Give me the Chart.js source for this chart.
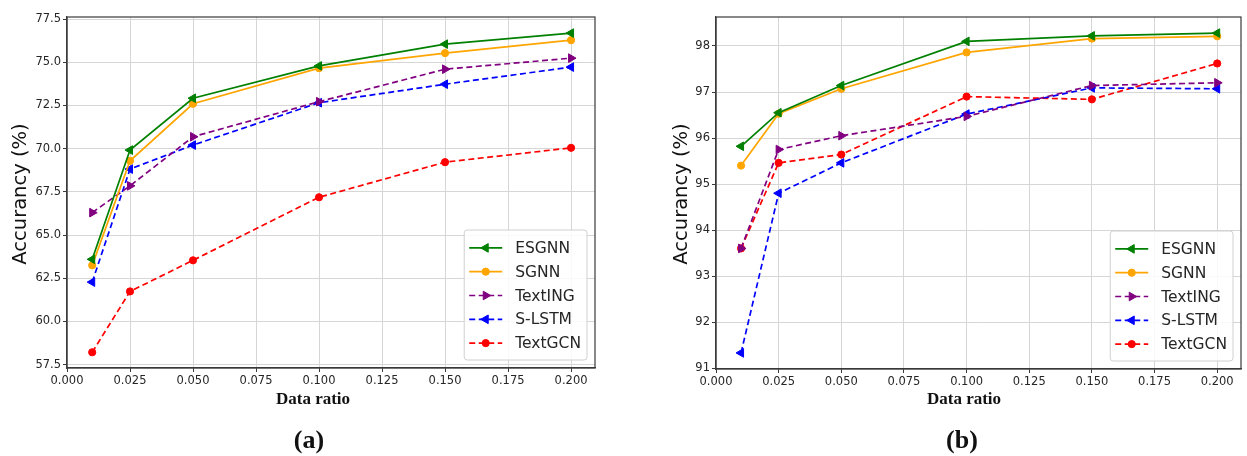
<!DOCTYPE html>
<html lang="en">
<head>
    <meta charset="UTF-8">
    <title>Accuracy vs data ratio</title>
    <script src="https://cdn.jsdelivr.net/npm/chart.js"></script>
    <style>
        body { margin: 0; background: #fff; }
        #wrap { position: relative; width: 1247px; height: 456px; }
        .box { position: absolute; top: 0; height: 456px; }
    </style>
</head>
<body>
    <div id="wrap">
        <div class="box" style="left:0;width:620px"><canvas id="chartA"></canvas></div>
        <div class="box" style="left:620px;width:627px"><canvas id="chartB"></canvas></div>
    </div>

    <script>
        // data ratio on the x axis
        var ratios = [0.01, 0.025, 0.05, 0.1, 0.15, 0.2];
        var seriesNames = ['ESGNN', 'SGNN', 'TextING', 'S-LSTM', 'TextGCN'];

        // (a)
        var esgnnA   = [63.6, 69.92, 72.92, 74.79, 76.05, 76.69];
        var sgnnA    = [63.25, 69.3, 72.6, 74.66, 75.53, 76.28];
        var textingA = [66.3, 67.85, 70.69, 72.72, 74.6, 75.24];
        var slstmA   = [62.28, 68.82, 70.21, 72.66, 73.73, 74.72];
        var textgcnA = [58.22, 61.74, 63.54, 67.19, 69.22, 70.05];

        // (b)
        var esgnnB   = [95.82, 96.55, 97.14, 98.1, 98.22, 98.28];
        var sgnnB    = [95.4, 96.53, 97.07, 97.86, 98.16, 98.21];
        var textingB = [93.6, 95.75, 96.05, 96.47, 97.14, 97.2];
        var slstmB   = [91.33, 94.8, 95.46, 96.52, 97.09, 97.07];
        var textgcnB = [93.6, 95.46, 95.64, 96.9, 96.84, 97.62];

        var tickFont = { family: 'DejaVu Sans', size: 11.5 };
        var textColor = '#262626';

        var styles = [
            { color: 'green',  dash: [],     pointStyle: 'triangle', rotation: -90 },
            { color: 'orange', dash: [],     pointStyle: 'circle',   rotation: 0 },
            { color: 'purple', dash: [6, 3.5], pointStyle: 'triangle', rotation: 90 },
            { color: 'blue',   dash: [6, 3.5], pointStyle: 'triangle', rotation: -90 },
            { color: 'red',    dash: [6, 3.5], pointStyle: 'circle',   rotation: 0 }
        ];

        function makeDatasets(lists) {
            return lists.map(function(vals, i) {
                var s = styles[i];
                return {
                    label: seriesNames[i],
                    data: vals.map(function(v, j) { return { x: ratios[j], y: v }; }),
                    borderColor: s.color,
                    backgroundColor: s.color,
                    borderWidth: 1.7,
                    borderDash: s.dash,
                    pointStyle: s.pointStyle,
                    rotation: s.rotation,
                    pointRadius: s.pointStyle === 'circle' ? 3.6 : 5,
                    pointBorderWidth: 1,
                    tension: 0
                };
            });
        }

        // frame, axis titles, panel letter and the legend box
        var decorations = {
            id: 'decorations',
            afterDatasetsDraw: function(chart, args, opts) {
                var c = chart.ctx, a = chart.chartArea;
                c.save();
                c.setLineDash([]);
                c.strokeStyle = '#3a3a3a';
                c.lineWidth = 1.2;
                c.strokeRect(a.left, a.top, a.right - a.left, a.bottom - a.top);

                // legend
                c.font = '15.5px "DejaVu Sans"';
                var rowH = 23.8, pad = 6;
                var textW = 0;
                chart.data.datasets.forEach(function(d) { textW = Math.max(textW, c.measureText(d.label).width); });
                var boxW = 5 + 33 + 13 + textW + 6;
                var boxH = chart.data.datasets.length * rowH + pad * 2 - 1;
                var bx = a.right - 8 - boxW, by = a.bottom - 8 - boxH;
                c.fillStyle = 'rgba(255,255,255,0.85)';
                c.strokeStyle = '#d0d0d0';
                c.lineWidth = 1;
                c.beginPath();
                c.roundRect(bx, by, boxW, boxH, 3);
                c.fill();
                c.stroke();
                chart.data.datasets.forEach(function(d, i) {
                    var y = by + pad + rowH * i + rowH / 2;
                    var x0 = bx + 5, x1 = x0 + 33;
                    c.strokeStyle = d.borderColor;
                    c.lineWidth = d.borderWidth;
                    c.setLineDash(d.borderDash);
                    c.beginPath();
                    c.moveTo(x0, y);
                    c.lineTo(x1, y);
                    c.stroke();
                    c.setLineDash([]);
                    c.fillStyle = d.backgroundColor;
                    c.strokeStyle = d.borderColor;
                    c.lineWidth = 1;
                    Chart.helpers.drawPoint(c, {
                        pointStyle: d.pointStyle,
                        rotation: d.rotation,
                        radius: d.pointRadius,
                        borderWidth: 1
                    }, (x0 + x1) / 2, y);
                    c.fillStyle = textColor;
                    c.textAlign = 'left';
                    c.textBaseline = 'middle';
                    c.fillText(d.label, x1 + 13, y + 1);
                });

                // axis titles
                c.fillStyle = '#111';
                c.textAlign = 'center';
                c.textBaseline = 'middle';
                c.font = '19.5px "DejaVu Sans"';
                c.save();
                c.translate(opts.yTitleX, 194);
                c.rotate(-Math.PI / 2);
                c.fillText('Accurancy (%)', 0, 0);
                c.restore();
                c.font = 'bold 17px "Liberation Serif"';
                c.fillText('Data ratio', opts.xTitleX, 400);
                c.font = 'bold 26px "Liberation Serif"';
                c.fillText(opts.letter, opts.letterX, 441);
                c.restore();
            }
        };

        function makeChart(el, lists, yRange, yStep, yDigits, layout) {
            return new Chart(el, {
                type: 'line',
                data: { datasets: makeDatasets(lists) },
                options: {
                    responsive: true,
                    maintainAspectRatio: false,
                    animation: false,
                    layout: { padding: { left: 0, top: 17, right: layout.right, bottom: 0 } },
                    plugins: {
                        legend: { display: false },
                        tooltip: { enabled: false },
                        decorations: layout.deco
                    },
                    scales: {
                        x: {
                            type: 'linear',
                            min: 0,
                            max: 0.2095,
                            afterFit: function(scale) { scale.height = layout.xHeight; },
                            grid: { color: '#d6d6d6', lineWidth: 1, tickLength: 4, tickColor: '#3a3a3a' },
                            border: { color: '#3a3a3a', width: 1.2 },
                            ticks: {
                                stepSize: 0.025,
                                includeBounds: false,
                                maxRotation: 0,
                                autoSkip: false,
                                padding: 2,
                                color: textColor,
                                font: tickFont,
                                callback: function(v) { return v.toFixed(3); }
                            }
                        },
                        y: {
                            min: yRange[0],
                            max: yRange[1],
                            afterFit: function(scale) { scale.width = layout.yWidth; },
                            grid: { color: '#d6d6d6', lineWidth: 1, tickLength: 4, tickColor: '#3a3a3a' },
                            border: { color: '#3a3a3a', width: 1.2 },
                            ticks: {
                                stepSize: yStep,
                                includeBounds: false,
                                autoSkip: false,
                                padding: 2,
                                color: textColor,
                                font: tickFont,
                                callback: function(v) { return v.toFixed(yDigits); }
                            }
                        }
                    }
                },
                plugins: [decorations]
            });
        }

        makeChart(document.getElementById('chartA'),
            [esgnnA, sgnnA, textingA, slstmA, textgcnA],
            [57.31, 77.62], 2.5, 1,
            { right: 25, xHeight: 88, yWidth: 67,
              deco: { yTitleX: 21, xTitleX: 313, letter: '(a)', letterX: 309 } });

        makeChart(document.getElementById('chartB'),
            [esgnnB, sgnnB, textingB, slstmB, textgcnB],
            [90.98, 98.63], 1, 0,
            { right: 1, xHeight: 87, yWidth: 96,
              deco: { yTitleX: 62, xTitleX: 344, letter: '(b)', letterX: 342 } });
    </script>
</body>
</html>
